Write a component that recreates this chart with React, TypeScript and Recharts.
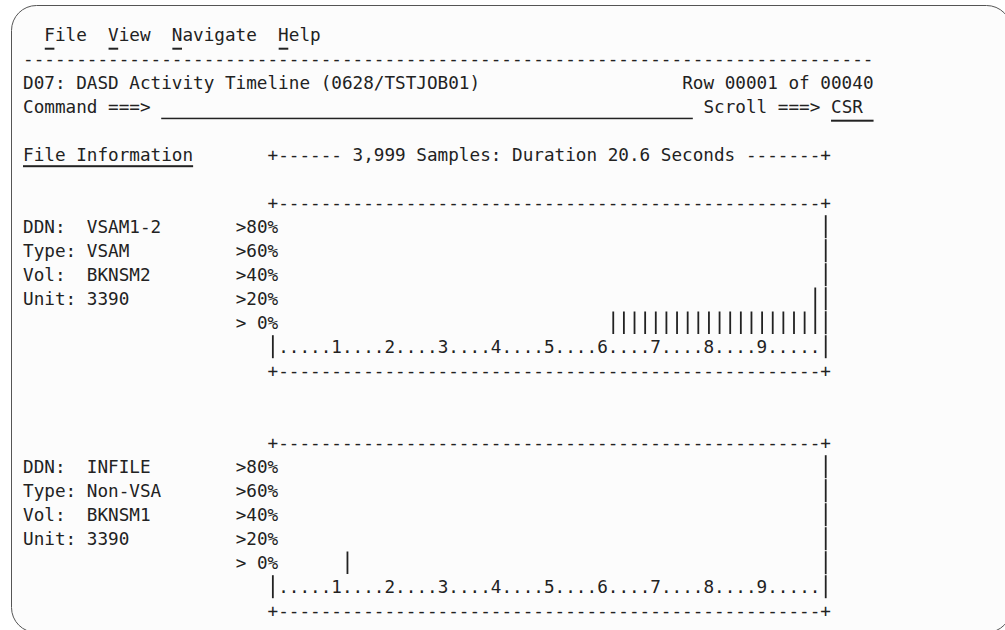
import React from 'react';
import { BarChart, Bar, XAxis, YAxis } from 'recharts';

// ---------- data ----------
const menuItems = ['File', 'View', 'Navigate', 'Help'];
const screenTitle = 'D07: DASD Activity Timeline (0628/TSTJOB01)';
const rowInfo = 'Row 00001 of 00040';
const commandLabel = 'Command ===>';
const scrollLabel = 'Scroll ===>';
const scrollValue = 'CSR';
const sectionLabel = 'File Information';
const sampleHeader = '+------ 3,999 Samples: Duration 20.6 Seconds -------+';

// activity thresholds lit per time slot (1 = "> 0%", 2 = ">20%", ...)
const levelLabels = ['> 0%', '>20%', '>40%', '>60%', '>80%'];
const levelTicks = [0.5, 1.5, 2.5, 3.5, 4.5];

const timeSlots = [
  1, 2, 3, 4, 5, 6, 7, 8, 9, 10,
  11, 12, 13, 14, 15, 16, 17, 18, 19, 20,
  21, 22, 23, 24, 25, 26, 27, 28, 29, 30,
  31, 32, 33, 34, 35, 36, 37, 38, 39, 40,
  41, 42, 43, 44, 45, 46, 47, 48, 49, 50,
  51,
];
const timeTickLabels = [
  '.', '.', '.', '.', '.', '1', '.', '.', '.', '.',
  '2', '.', '.', '.', '.', '3', '.', '.', '.', '.',
  '4', '.', '.', '.', '.', '5', '.', '.', '.', '.',
  '6', '.', '.', '.', '.', '7', '.', '.', '.', '.',
  '8', '.', '.', '.', '.', '9', '.', '.', '.', '.',
  '.',
];

const vsamInfo = ['DDN:  VSAM1-2', 'Type: VSAM', 'Vol:  BKNSM2', 'Unit: 3390'];
const vsamActivity = [
  0, 0, 0, 0, 0, 0, 0, 0, 0, 0,
  0, 0, 0, 0, 0, 0, 0, 0, 0, 0,
  0, 0, 0, 0, 0, 0, 0, 0, 0, 0,
  0, 1, 1, 1, 1, 1, 1, 1, 1, 1,
  1, 1, 1, 1, 1, 1, 1, 1, 1, 1,
  2,
];

const infileInfo = ['DDN:  INFILE', 'Type: Non-VSA', 'Vol:  BKNSM1', 'Unit: 3390'];
const infileActivity = [
  0, 0, 0, 0, 0, 0, 1, 0, 0, 0,
  0, 0, 0, 0, 0, 0, 0, 0, 0, 0,
  0, 0, 0, 0, 0, 0, 0, 0, 0, 0,
  0, 0, 0, 0, 0, 0, 0, 0, 0, 0,
  0, 0, 0, 0, 0, 0, 0, 0, 0, 0,
  0,
];

// ---------- layout ----------
const FONT = '"DejaVu Sans Mono", monospace';
const FS = 17.66;
const CW = 10.632;
const X0 = 23;
const ROW0 = 34.7;
const RH = 24;
const INK = '#222';
const BASE = 6.44;

const colX = (c: number) => X0 + c * CW;
const rowY = (r: number) => ROW0 + r * RH;

const CHART_LEFT = 200;
const PLOT_LEFT = colX(24);
const PLOT_W = 51 * CW;
const PLOT_H = 5 * RH;

function T({ col, row, text }: { col: number; row: number; text: string }) {
  return (
    <text
      x={colX(col)}
      y={rowY(row) + BASE}
      fill={INK}
      fontFamily={FONT}
      fontSize={FS}
      style={{ whiteSpace: 'pre' }}
    >
      {text}
    </text>
  );
}

function PanelFrame({ top, info }: { top: number; info: string[] }) {
  const dashes = '+' + '-'.repeat(51) + '+';
  const segs = [];
  for (let r = top + 1; r <= top + 6; r++) {
    segs.push(
      <line
        key={r}
        x1={colX(75.5)}
        x2={colX(75.5)}
        y1={rowY(r) - 11.5}
        y2={rowY(r) + 11.5}
        stroke={INK}
        strokeWidth={1.8}
      />
    );
  }
  return (
    <g>
      <T col={23} row={top} text={dashes} />
      {info.map((s, i) => (
        <T key={i} col={0} row={top + 1 + i} text={s} />
      ))}
      {segs}
      <line
        x1={colX(23.5)}
        x2={colX(23.5)}
        y1={rowY(top + 6) - 11.5}
        y2={rowY(top + 6) + 11.5}
        stroke={INK}
        strokeWidth={1.8}
      />
      <T col={23} row={top + 7} text={dashes} />
    </g>
  );
}

function XTick(props: any) {
  const { x, y, payload } = props;
  return (
    <text
      x={x}
      y={y + 12 + BASE}
      textAnchor="middle"
      fill={INK}
      fontFamily={FONT}
      fontSize={FS}
    >
      {timeTickLabels[payload.value - 1]}
    </text>
  );
}

function YTick(props: any) {
  const { x, y, payload } = props;
  return (
    <text
      x={x}
      y={y + BASE}
      textAnchor="end"
      fill={INK}
      fontFamily={FONT}
      fontSize={FS}
      style={{ whiteSpace: 'pre' }}
    >
      {levelLabels[Math.floor(payload.value)]}
    </text>
  );
}

function ColumnMark(props: any) {
  const { x, y, width, height } = props;
  if (!height || height <= 0) return <g />;
  return <rect x={x + width / 2 - 0.9} y={y + 0.5} width={1.8} height={height - 1.5} fill={INK} />;
}

function ActivityChart({ values, topRow }: { values: number[]; topRow: number }) {
  const rows = timeSlots.map((slot, i) => ({ slot, level: values[i] }));
  return (
    <div style={{ position: 'absolute', left: CHART_LEFT, top: rowY(topRow + 1) - RH / 2 }}>
      <BarChart
        width={PLOT_LEFT - CHART_LEFT + PLOT_W}
        height={PLOT_H + RH}
        data={rows}
        margin={{ top: 0, right: 0, bottom: 0, left: 0 }}
        barCategoryGap={0}
      >
        <XAxis
          dataKey="slot"
          type="category"
          interval={0}
          tickSize={0}
          tickMargin={0}
          axisLine={false}
          tickLine={false}
          height={RH}
          tick={XTick}
        />
        <YAxis
          type="number"
          domain={[0, 5]}
          ticks={levelTicks}
          width={PLOT_LEFT - CHART_LEFT}
          tickSize={0}
          tickMargin={0}
          axisLine={false}
          tickLine={false}
          tick={YTick}
        />
        <Bar dataKey="level" isAnimationActive={false} shape={ColumnMark} />
      </BarChart>
    </div>
  );
}

export default function App() {
  const menuLine = '  ' + menuItems.join('  ');
  const menuCols: number[] = [];
  let c = 2;
  menuItems.forEach((m) => {
    menuCols.push(c);
    c += m.length + 2;
  });
  return (
    <div style={{ position: 'absolute', left: 0, top: 0, width: 1005, height: 630, overflow: 'hidden', background: '#fff' }}>
      <svg width={1005} height={630} style={{ position: 'absolute', left: 0, top: 0 }}>
        <rect x={11.5} y={5.5} width={1000} height={627} rx={25} ry={25} fill="#fcfcfc" stroke="#555" strokeWidth={1} />
        <T col={0} row={0} text={menuLine} />
        {menuCols.map((mc) => (
          <rect key={mc} x={colX(mc) + 0.5} y={rowY(0) + 13} width={CW - 1} height={2} fill={INK} />
        ))}
        <T col={0} row={1} text={'-'.repeat(80)} />
        <T col={0} row={2} text={screenTitle} />
        <T col={80 - rowInfo.length} row={2} text={rowInfo} />
        <T col={0} row={3} text={commandLabel} />
        <rect x={colX(13)} y={rowY(3) + 11} width={colX(63) - colX(13)} height={1.5} fill={INK} />
        <T col={64} row={3} text={scrollLabel} />
        <T col={76} row={3} text={scrollValue} />
        <rect x={colX(76)} y={rowY(3) + 13} width={colX(80) - colX(76)} height={2} fill={INK} />
        <T col={0} row={5} text={sectionLabel} />
        <rect x={colX(0)} y={rowY(5) + 10.5} width={colX(16) - colX(0)} height={2} fill={INK} />
        <T col={23} row={5} text={sampleHeader} />
        <PanelFrame top={7} info={vsamInfo} />
        <PanelFrame top={17} info={infileInfo} />
      </svg>
      <ActivityChart values={vsamActivity} topRow={7} />
      <ActivityChart values={infileActivity} topRow={17} />
    </div>
  );
}
